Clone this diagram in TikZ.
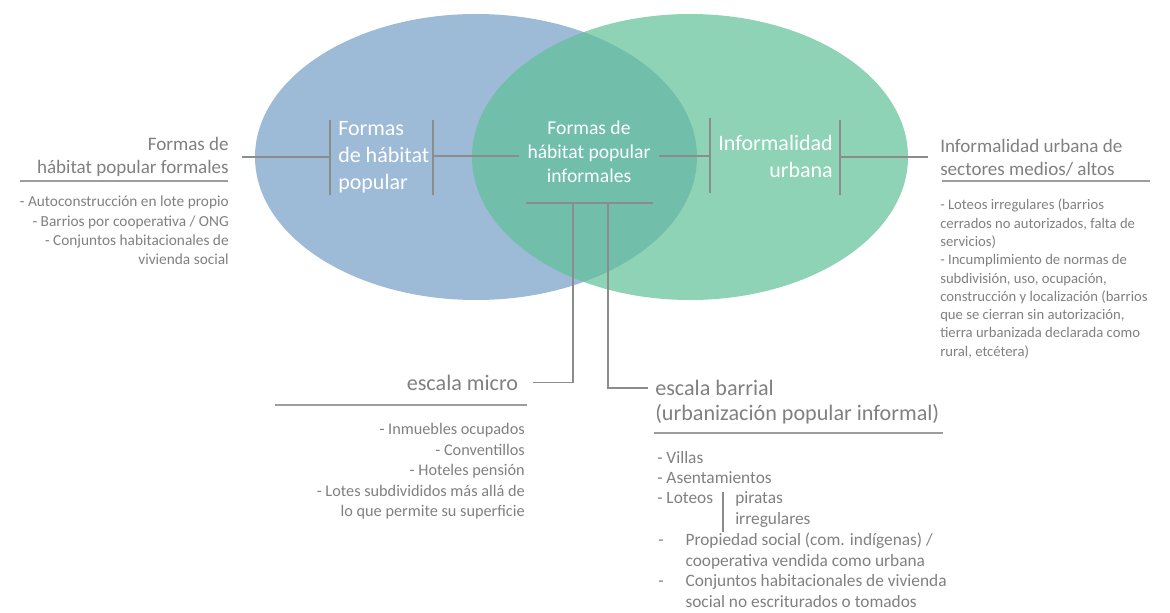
\documentclass[tikz,border=0pt]{standalone}
\usepackage{fontspec}
\setmainfont{Carlito}
\definecolor{bluefill}{RGB}{157,186,215}
\definecolor{greenfill}{RGB}{95,192,151}
\definecolor{linegray}{RGB}{140,140,140}
\definecolor{textgray}{RGB}{128,128,128}

\begin{document}
\begin{tikzpicture}[x=0.75pt,y=-0.75pt,
  head/.style={text=textgray,inner sep=0pt,font=\fontsize{14.3}{17.3}\selectfont},
  subhead/.style={text=textgray,inner sep=0pt,font=\fontsize{16.6}{18.8}\selectfont},
  inner/.style={text=white,inner sep=0pt,font=\fontsize{16.5}{20.3}\selectfont},
  items/.style={text=textgray,inner sep=0pt,font=\fontsize{11}{14.2}\selectfont},
  conn/.style={draw=linegray,line width=0.9pt},
  rule/.style={draw=linegray!85,line width=1.8pt}]
  \useasboundingbox (0,0) rectangle (1170,613);
  % the two sets
  \fill[bluefill] (476,157) ellipse [x radius=221,y radius=143];
  \fill[greenfill,opacity=0.7] (690,157) ellipse [x radius=218,y radius=143];
  % texts inside
  \node[inner,align=left,anchor=west] (habitat) at (338,157) {Formas\\de hábitat\\popular};
  \node[inner,align=center,font=\fontsize{14.7}{18}\selectfont,inner xsep=6pt] (informal) at (589,152) {Formas de\\hábitat popular\\informales};
  \node[inner,align=right,anchor=east] (urbana) at (833,156) {Informalidad\\urbana};
  % texts outside
  \node[head,align=right,anchor=south east] (formal) at (229,177) {Formas de\\hábitat popular formales};
  \node[items,align=right,anchor=north east,font=\fontsize{11.5}{14.4}\selectfont] (formalitems) at (229,196) {- Autoconstrucción en lote propio\\- Barrios por cooperativa / ONG\\- Conjuntos habitacionales de\\vivienda social};
  \node[head,align=left,anchor=south west] (sectores) at (940,177) {Informalidad urbana de\\sectores medios/ altos};
  \node[items,align=left,anchor=north west,font=\fontsize{11}{13.7}\selectfont] (sectoritems) at (940,199) {- Loteos irregulares (barrios\\cerrados no autorizados, falta de\\servicios)\\- Incumplimiento de normas de\\subdivisión, uso, ocupación,\\construcción y localización (barrios\\que se cierran sin autorización,\\tierra urbanizada declarada como\\rural, etcétera)};
  \node[subhead,anchor=base east,inner xsep=11pt] (micro) at (533,390) {escala micro};
  \node[items,align=right,anchor=north east,font=\fontsize{12.2}{15.4}\selectfont] (microitems) at (525,423) {- Inmuebles ocupados\\- Conventillos\\- Hoteles pensión\\- Lotes subdivididos más allá de\\lo que permite su superficie};
  \node[subhead,align=left,anchor=north west] (barrial) at (655,380) {escala barrial\\(urbanización popular informal)};
  \node[items,align=left,anchor=north west,font=\fontsize{13}{15.2}\selectfont] (barrialitems) at (657,451) {- Villas\\- Asentamientos\\- Loteos};
  \node[items,align=left,anchor=north west,font=\fontsize{13}{15.8}\selectfont] (loteos) at (735,491) {piratas\\irregulares};
  \node[items,anchor=north west,font=\fontsize{13}{15.4}\selectfont] (barrialmore) at (658,531) {%
    \begin{tabular}{@{}l@{\hspace{16.5pt}}l@{}}
    - & Propiedad social (com. indígenas) /\\
      & cooperativa vendida como urbana\\
    - & Conjuntos habitacionales de vivienda\\
      & social no escriturados o tomados
    \end{tabular}};
  % connector points
  \coordinate (lineL) at (242,157);
  \coordinate (b1) at (330,157);
  \coordinate (b1t) at (330,120);
  \coordinate (b1b) at (330,195);
  \coordinate (b2) at (433,156);
  \coordinate (b2t) at (433,120);
  \coordinate (b2b) at (433,195);
  \coordinate (b3) at (710,156);
  \coordinate (b3t) at (710,118);
  \coordinate (b3b) at (710,193);
  \coordinate (b4) at (840,157);
  \coordinate (b4t) at (840,120);
  \coordinate (b4b) at (840,195);
  \coordinate (lineR) at (928,157);
  \coordinate (hl) at (526,203);
  \coordinate (hr) at (653,203);
  \coordinate (vm) at (573,203);
  \coordinate (vb) at (608,203);
  \coordinate (bc) at (648,388);
  \coordinate (lt) at (723,492);
  \coordinate (lb) at (723,532);
  % connectors
  \draw[conn] (lineL) -- (b1);
  \draw[conn] (b1t) -- (b1b);
  \draw[conn] (b2t) -- (b2b);
  \draw[conn] (b2) -- (b2 -| informal.west);
  \draw[conn] (b3 -| informal.east) -- (b3);
  \draw[conn] (b3t) -- (b3b);
  \draw[conn] (b4t) -- (b4b);
  \draw[conn] (b4) -- (lineR);
  \draw[conn] (hl) -- (hr);
  \draw[conn] (vm) |- (micro.east);
  \draw[conn] (vb) |- (bc);
  \draw[conn] (lt) -- (lb);
  % underlines
  \coordinate (u1a) at (20,181);
  \coordinate (u1b) at (228,181);
  \coordinate (u2a) at (942,181);
  \coordinate (u2b) at (1150,181);
  \coordinate (u3a) at (275,405);
  \coordinate (u3b) at (527,405);
  \coordinate (u4a) at (654,433);
  \coordinate (u4b) at (943,433);
  \draw[rule] (u1a) -- (u1b);
  \draw[rule] (u2a) -- (u2b);
  \draw[rule] (u3a) -- (u3b);
  \draw[rule] (u4a) -- (u4b);
\end{tikzpicture}
\end{document}
